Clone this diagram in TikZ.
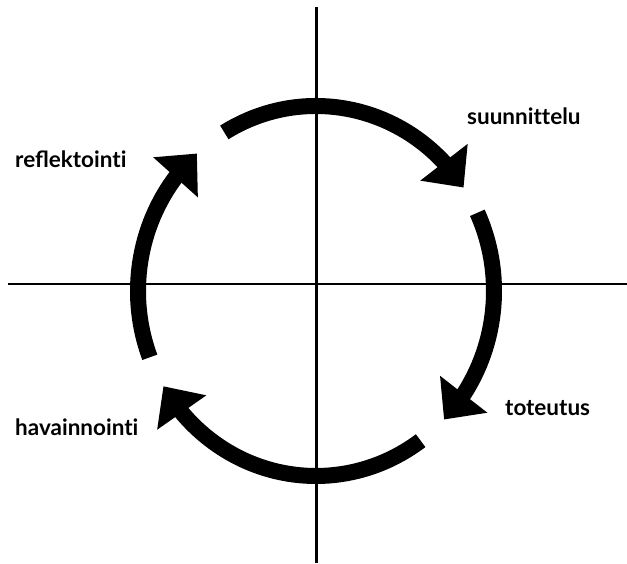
\documentclass[tikz,border=0pt]{standalone}
\usepackage{fontspec}
\setmainfont{Lato}
\usetikzlibrary{arrows.meta,bending}
\begin{document}
\begin{tikzpicture}[x=1pt,y=1pt,
  ring/.style={line width=16pt, -{Triangle[width=58pt,length=32pt]}},
  axis/.style={line width=3pt},
  lbl/.style={anchor=base west, inner sep=0pt, font=\fontsize{22.5}{26}\selectfont\bfseries}]
\useasboundingbox (0,0) rectangle (627,563);
\coordinate (C) at (316,272);
\coordinate (vt) at (316,556);
\coordinate (vb) at (316,0);
\coordinate (hl) at (8,279);
\coordinate (hr) at (627,279);
\draw[axis] (vt) -- (vb);
\draw[axis, line width=2.6pt] (hl) -- (hr);
% arcs
\coordinate (s1) at ([shift={(121:178pt and 185pt)}]C);
\coordinate (s2) at ([shift={(25:178pt and 185pt)}]C);
\coordinate (s3) at ([shift={(-54:178pt and 185pt)}]C);
\coordinate (s4) at ([shift={(201:178pt and 185pt)}]C);
\draw[ring] (s1) arc[start angle=121, end angle=34, x radius=178pt, y radius=185pt];
\draw[ring] (s2) arc[start angle=25, end angle=-44, x radius=178pt, y radius=185pt];
\draw[ring] (s3) arc[start angle=-54, end angle=-149, x radius=178pt, y radius=185pt];
\draw[ring] (s4) arc[start angle=201, end angle=132, x radius=178pt, y radius=185pt];
% labels
\node[lbl] (suun) at (467,438) {suunnit\kern0pt telu};
\node[lbl] (tote) at (505,147) {toteutus};
\node[lbl] (hava) at (15,128) {havainnoint\kern0pt i};
\node[lbl] (refl) at (15,395) {reflektoint\kern0pt i};
\end{tikzpicture}
\end{document}
